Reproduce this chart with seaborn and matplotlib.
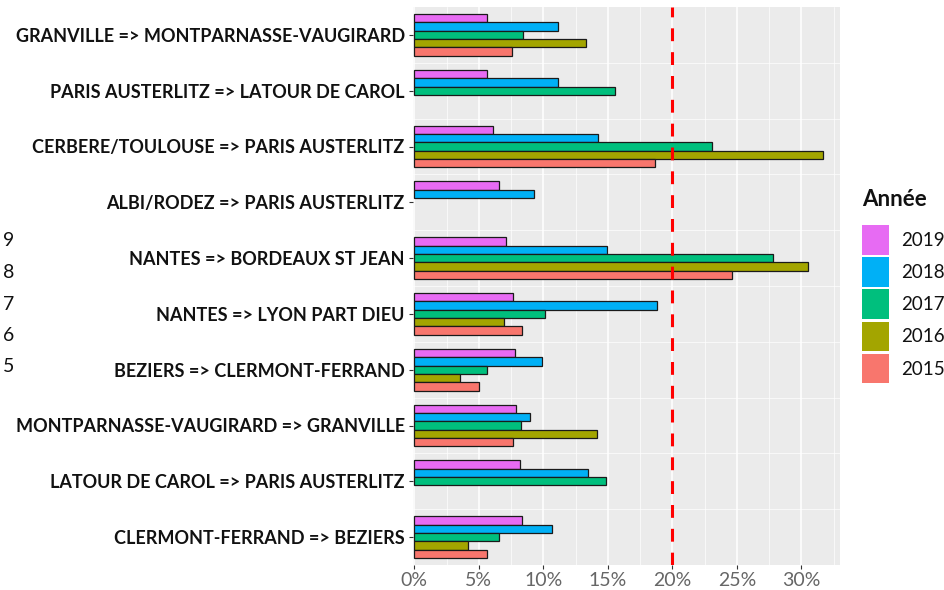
import numpy as np
import pandas as pd
import matplotlib
matplotlib.use("Agg")
import matplotlib.pyplot as plt
import seaborn as sns
from matplotlib.patches import Patch
from matplotlib.ticker import MultipleLocator, FuncFormatter

# Lines, from top to bottom
lignes = [
    "GRANVILLE => MONTPARNASSE-VAUGIRARD",
    "PARIS AUSTERLITZ => LATOUR DE CAROL",
    "CERBERE/TOULOUSE => PARIS AUSTERLITZ",
    "ALBI/RODEZ => PARIS AUSTERLITZ",
    "NANTES => BORDEAUX ST JEAN",
    "NANTES => LYON PART DIEU",
    "BEZIERS => CLERMONT-FERRAND",
    "MONTPARNASSE-VAUGIRARD => GRANVILLE",
    "LATOUR DE CAROL => PARIS AUSTERLITZ",
    "CLERMONT-FERRAND => BEZIERS",
]

annees = ["2019", "2018", "2017", "2016", "2015"]
couleurs = ["#E76BF3", "#00B0F6", "#00BF7D", "#A3A500", "#F8766D"]

# Share of late trains (%) per line and year; NaN = no data
taux_2019 = [5.63, 5.66, 6.10, 6.56, 7.13, 7.65, 7.80, 7.88, 8.19, 8.35]
taux_2018 = [11.11, 11.14, 14.24, 9.30, 14.91, 18.81, 9.90, 8.97, 13.49, 10.65]
taux_2017 = [8.40, 15.56, 23.10, np.nan, 27.83, 10.13, 5.63, 8.27, 14.88, 6.56]
taux_2016 = [13.28, np.nan, 31.71, np.nan, 30.52, 6.95, 3.54, 14.16, np.nan, 4.19]
taux_2015 = [7.55, np.nan, 18.68, np.nan, 24.63, 8.35, 5.01, 7.65, np.nan, 5.63]

seuil = 20  # reference threshold (%)

series = dict(zip(annees, [taux_2019, taux_2018, taux_2017, taux_2016, taux_2015]))
df = pd.concat(
    [pd.DataFrame({"ligne": lignes, "annee": a, "taux": v}) for a, v in series.items()],
    ignore_index=True,
).dropna()

sns.set_theme(style="darkgrid")
plt.rcParams["font.family"] = ["Lato", "DejaVu Sans"]

fig = plt.figure(figsize=(9.45, 5.9), dpi=100)
ax = fig.add_axes([413 / 945, 25 / 590, 427 / 945, 558 / 590])
ax.set_facecolor("#EBEBEB")

sns.barplot(
    data=df, x="taux", y="ligne", hue="annee",
    order=lignes, hue_order=annees, palette=couleurs,
    width=0.75, saturation=1, errorbar=None, legend=False,
    edgecolor="#1a1a1a", linewidth=0.9, ax=ax,
)

ax.axvline(seuil, color="#FF0000", lw=2.2, ls=(0, (4.2, 3.6)), zorder=5)

ax.set_xlim(-0.1, 33.0)
ax.set_ylim(len(lignes) - 0.5, -0.5)
ax.xaxis.set_major_locator(MultipleLocator(5))
ax.xaxis.set_minor_locator(MultipleLocator(2.5))
ax.xaxis.set_major_formatter(FuncFormatter(lambda v, _: f"{v:.0f}%"))
ax.set_yticks(range(len(lignes)))
ax.set_yticks(np.arange(0.5, len(lignes) - 0.5, 1), minor=True)
ax.set_yticklabels(lignes)

ax.grid(False)
ax.grid(axis="x", which="major", color="white", lw=1.1, zorder=0)
ax.grid(axis="x", which="minor", color="white", lw=0.5, zorder=0)
ax.grid(axis="y", which="minor", color="white", lw=0.5, zorder=0)
ax.set_axisbelow(True)
for s in ax.spines.values():
    s.set_visible(False)

ax.set_xlabel("")
ax.set_ylabel("")
ax.tick_params(axis="y", which="major", length=3, width=0.8, color="#333333",
               pad=3, labelsize=13, labelcolor="#111111", left=True)
ax.tick_params(axis="x", which="major", length=3, width=0.8, color="#333333",
               pad=2, labelsize=14, labelcolor="#666666", bottom=True)
ax.tick_params(which="minor", length=0)
for t in ax.get_yticklabels():
    t.set_fontweight("bold")

# Legend
fig.text(862 / 945, 1 - 200 / 590, "Année", fontsize=16, fontweight="bold",
         color="#111111", ha="left", va="center")
handles = [Patch(facecolor=c, edgecolor="none") for c in couleurs]
fig.legend(handles, annees, loc="upper left", bbox_to_anchor=(862 / 945, 1 - 225 / 590),
           frameon=False, fontsize=13.5, borderpad=0, borderaxespad=0,
           handlelength=1.45, handleheight=2.05, labelspacing=0.14, handletextpad=0.65,
           labelcolor="#111111")

# Stray digits at the left edge
for i, d in enumerate(["9", "8", "7", "6", "5"]):
    fig.text(3 / 945, 1 - (241 + 31.5 * i) / 590, d, fontsize=14,
             color="#111111", ha="left", va="center")

fig.savefig("out.png", dpi=100)
